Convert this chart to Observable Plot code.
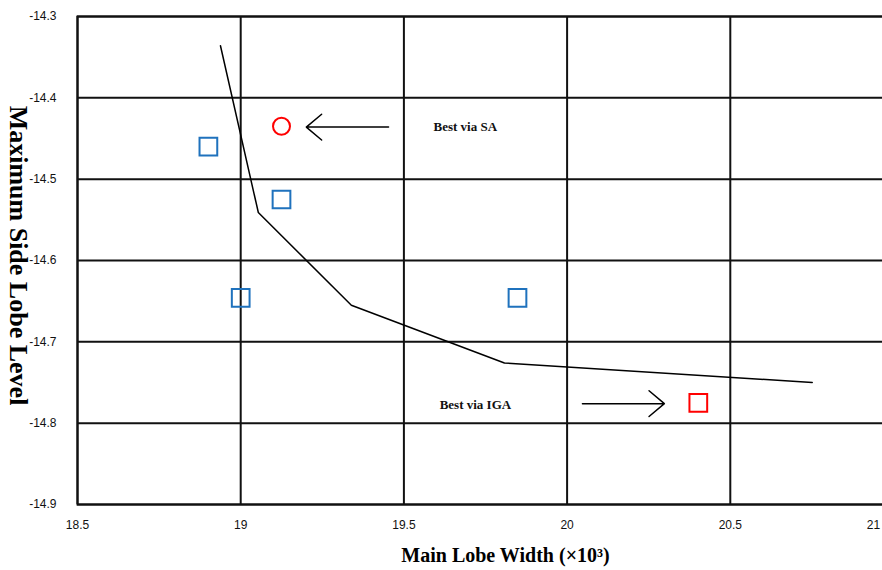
<!DOCTYPE html>
<html><head><meta charset="utf-8">
<script src="https://cdn.jsdelivr.net/npm/d3@7"></script>
<script src="https://cdn.jsdelivr.net/npm/@observablehq/plot@0.6"></script>
<style>html,body{margin:0;padding:0;background:#fff;overflow:hidden;width:882px;height:570px}#chart svg{max-width:none !important}</style>
</head><body><div id="chart"></div>
<script>
const xTicks = [18.5, 19, 19.5, 20, 20.5, 21];
const yTicks = [-14.9, -14.8, -14.7, -14.6, -14.5, -14.4, -14.3];
const curveX = [18.938, 19.054, 19.339, 19.808, 20.751];
const curveY = [-14.336, -14.541, -14.655, -14.726, -14.750];
const blueX = [18.901, 19.125, 19.0, 19.848];
const blueY = [-14.460, -14.525, -14.646, -14.646];
const saX = [19.125], saY = [-14.435];
const igaX = [20.402], igaY = [-14.775];
const notes = ["Best via SA", "Best via IGA"];
const noteX = [19.688, 19.719];
const noteY = [-14.436, -14.778];
const arrowX1 = [19.453, 20.047], arrowX2 = [19.201, 20.298], arrowY = [-14.436, -14.776];

const curve = curveX.map((x, i) => ({x, y: curveY[i]}));
const blue = blueX.map((x, i) => ({x, y: blueY[i]}));
const sa = saX.map((x, i) => ({x, y: saY[i]}));
const iga = igaX.map((x, i) => ({x, y: igaY[i]}));
const noteData = notes.map((t, i) => ({t, x: noteX[i], y: noteY[i]}));
const arrows = arrowX1.map((x1, i) => ({x1, x2: arrowX2[i], y: arrowY[i]}));

const chart = Plot.plot({
  width: 900, height: 570,
  marginTop: 16, marginBottom: 66, marginLeft: 77, marginRight: 7,
  x: {domain: [18.5, 21]},
  y: {domain: [-14.9, -14.3]},
  style: {background: "#fff", maxWidth: "none"},
  marks: [
    Plot.gridX(xTicks, {stroke: "#111", strokeOpacity: 1, strokeWidth: 2}),
    Plot.gridY(yTicks, {stroke: "#111", strokeOpacity: 1, strokeWidth: 2}),
    Plot.frame({stroke: "#111", strokeWidth: 2}),
    Plot.axisY(yTicks, {tickSize: 0, tickPadding: 21, tickFormat: d => d.toFixed(1), fontSize: 12, fontFamily: "Liberation Sans, Arial, sans-serif", fill: "#111", label: null}),
    Plot.axisX(xTicks.slice(0, -1), {tickSize: 0, tickPadding: 16, tickFormat: d => String(d), fontSize: 12, fontFamily: "Liberation Sans, Arial, sans-serif", fill: "#111", label: null}),
    Plot.axisX(xTicks.slice(-1), {tickSize: 0, tickPadding: 16, dx: -20, tickFormat: d => String(d), fontSize: 12, fontFamily: "Liberation Sans, Arial, sans-serif", fill: "#111", label: null}),
    Plot.line(curve, {x: "x", y: "y", stroke: "#000", strokeWidth: 1.5}),
    Plot.dot(blue, {x: "x", y: "y", symbol: "square", r: 10, stroke: "#1f72bd", strokeWidth: 2, fill: "none"}),
    Plot.dot(iga, {x: "x", y: "y", symbol: "square", r: 10, stroke: "#ff0000", strokeWidth: 2, fill: "none"}),
    Plot.dot(sa, {x: "x", y: "y", symbol: "circle", r: 8.5, stroke: "#ff0000", strokeWidth: 2, fill: "none"}),
    Plot.arrow(arrows, {x1: "x1", x2: "x2", y1: "y", y2: "y", stroke: "#000", strokeWidth: 1.5, headLength: 20, headAngle: 80, bend: 0, insetStart: 0, insetEnd: 0}),
    Plot.text(noteData, {x: "x", y: "y", text: "t", fontSize: 13, fontWeight: "bold", fontFamily: "Liberation Serif, Times New Roman, serif", fill: "#111"}),
    Plot.text(["Maximum Side Lobe Level"], {frameAnchor: "left", textAnchor: "middle", lineAnchor: "middle", dx: -59, dy: -5, rotate: 90, fontSize: 26, fontWeight: "bold", fontFamily: "Liberation Serif, Times New Roman, serif", fill: "#000"}),
    Plot.text(["Main Lobe Width (×10³)"], {frameAnchor: "bottom", textAnchor: "middle", lineAnchor: "middle", dx: 20, dy: 51, fontSize: 20, fontWeight: "bold", fontFamily: "Liberation Serif, Times New Roman, serif", fill: "#000"})
  ]
});
document.getElementById("chart").appendChild(chart);
</script></body></html>
